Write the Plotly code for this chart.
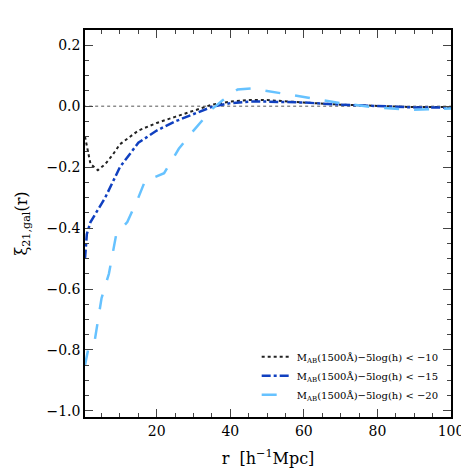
import plotly.graph_objects as go

r_a = [0.5, 1, 2, 4, 6, 8, 10, 15, 20, 25, 30, 35, 40, 45, 50, 55, 60, 70, 80, 90, 100]
xi_a = [-0.1, -0.13, -0.19, -0.21, -0.19, -0.16, -0.125, -0.08, -0.055, -0.035, -0.015, 0.005, 0.015, 0.02, 0.02, 0.015, 0.012, 0.005, 0.0, -0.003, -0.003]

r_b = [0.5, 1, 2, 4, 6, 8, 10, 15, 20, 25, 30, 35, 40, 45, 50, 60, 70, 80, 90, 100]
xi_b = [-0.5, -0.42, -0.38, -0.34, -0.3, -0.25, -0.2, -0.12, -0.08, -0.05, -0.025, -0.002, 0.01, 0.015, 0.015, 0.012, 0.005, 0.0, -0.004, -0.005]

r_c = [0.5, 1.5, 3, 5, 7, 9, 12, 15, 17, 19, 22, 26, 30, 35, 38, 42, 46, 50, 60, 70, 80, 90, 100]
xi_c = [-0.85, -0.79, -0.78, -0.63, -0.55, -0.42, -0.38, -0.3, -0.24, -0.235, -0.22, -0.14, -0.08, -0.01, 0.02, 0.055, 0.058, 0.05, 0.03, 0.01, -0.005, -0.012, -0.008]

labels = ["M<sub>AB</sub>(1500Å)−5log(h) < −10",
          "M<sub>AB</sub>(1500Å)−5log(h) < −15",
          "M<sub>AB</sub>(1500Å)−5log(h) < −20"]

fig = go.Figure()
fig.add_trace(go.Scatter(x=[0, 100], y=[0, 0], mode='lines', showlegend=False,
                         line=dict(color='#555555', width=1, dash='dot')))
fig.add_trace(go.Scatter(x=r_a, y=xi_a, mode='lines', name=labels[0],
                         line=dict(color='#222222', width=2, dash='dot')))
fig.add_trace(go.Scatter(x=r_b, y=xi_b, mode='lines', name=labels[1],
                         line=dict(color='#1040c0', width=2.5, dash='dashdot')))
fig.add_trace(go.Scatter(x=r_c, y=xi_c, mode='lines', name=labels[2],
                         line=dict(color='#66c2ff', width=2.5, dash='longdash')))

axis = dict(showline=True, linecolor='black', linewidth=1.5, mirror='ticks', ticks='inside',
            ticklen=8, minor=dict(ticks='inside', ticklen=4), showgrid=False, zeroline=False,
            tickfont=dict(size=14))
fig.update_xaxes(range=[0.5, 100], tickvals=[20, 40, 60, 80, 100], title_text='r  [h<sup>−1</sup>Mpc]', **axis)
fig.update_yaxes(range=[-1.02, 0.25], dtick=0.2, tickformat='.1f', title_text='ξ<sub>21,gal</sub>(r)', **axis)
fig.update_layout(width=469, height=469, plot_bgcolor='white', paper_bgcolor='white',
                  font=dict(family='DejaVu Serif', size=13, color='black'),
                  margin=dict(l=70, r=26, t=22, b=47),
                  legend=dict(x=0.98, y=0.02, xanchor='right', yanchor='bottom', font=dict(size=10),
                              bgcolor='rgba(0,0,0,0)'))
fig.write_html("out.html")
